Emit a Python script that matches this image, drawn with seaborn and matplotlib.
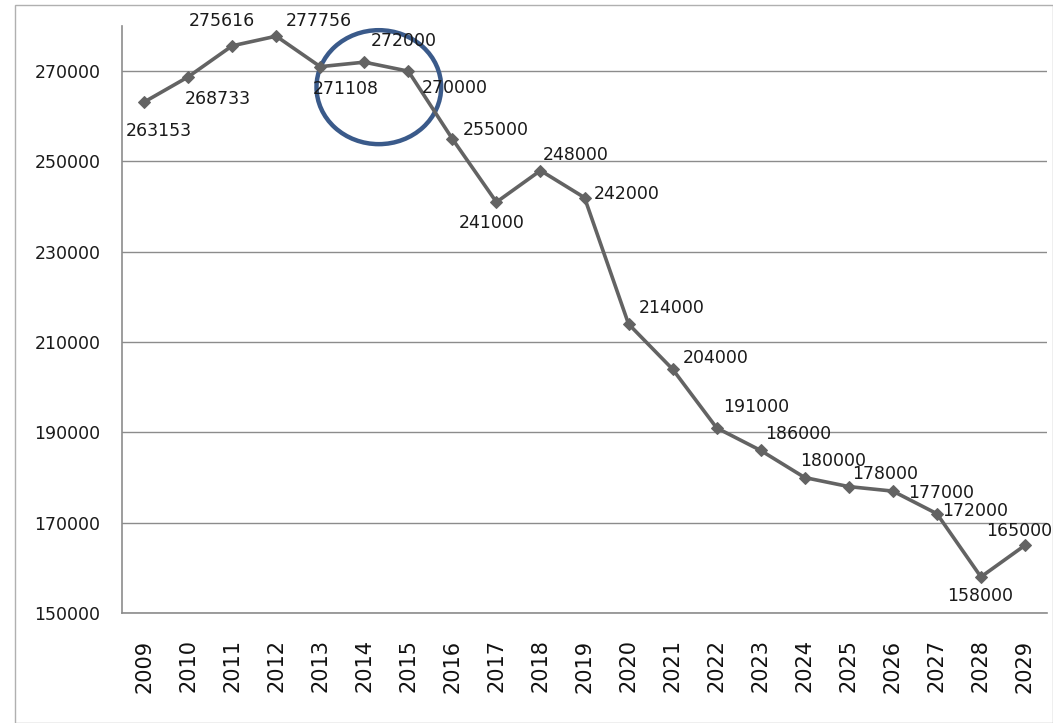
import numpy as np
import pandas as pd
import matplotlib.pyplot as plt
import seaborn as sns
from matplotlib.patches import Ellipse, Rectangle

# =============================================================================
# DATOS
# =============================================================================
anios = [str(a) for a in range(2009, 2030)]
valores = [263153, 268733, 275616, 277756, 271000, 272000, 270000, 255000,
           241000, 248000, 242000, 214000, 204000, 191000, 186000, 180000,
           178000, 177000, 172000, 158000, 165000]
etiquetas = ["263153", "268733", "275616", "277756", "271108", "272000",
             "270000", "255000", "241000", "248000", "242000", "214000",
             "204000", "191000", "186000", "180000", "178000", "177000",
             "172000", "158000", "165000"]
y_ticks = [150000, 170000, 190000, 210000, 230000, 250000, 270000]

# desplazamiento de cada etiqueta (pixeles) y alineacion horizontal
offsets = [(15, -29, "center"), (30, -22, "center"), (-10, 25, "center"),
           (43, 15, "center"), (26, -22, "center"), (39, 21, "center"),
           (13, -17, "left"), (10, 9, "left"), (-5, -21, "center"),
           (35, 16, "center"), (9, 4, "left"), (10, 16, "left"),
           (10, 11, "left"), (6, 21, "left"), (4, 16, "left"),
           (-5, 17, "left"), (3, 13, "left"), (15, -2, "left"),
           (5, 3, "left"), (-1, -19, "center"), (-39, 14, "left")]

df = pd.DataFrame({"pos": np.arange(len(anios)), "valor": valores})

# =============================================================================
# GRAFICO
# =============================================================================
sns.set_style("white")
plt.rcParams["font.family"] = ["DejaVu Sans"]

fig = plt.figure(figsize=(10.53, 7.23), dpi=100)
ax = fig.add_axes([0.1159, 0.1521, 0.8784, 0.8119])

sns.lineplot(data=df, x="pos", y="valor", ax=ax, color="#636363",
             linewidth=2.6, marker="D", markersize=6, markeredgecolor="#636363")

for i, (v, txt) in enumerate(zip(valores, etiquetas)):
    dx, dy, ha = offsets[i]
    ax.annotate(txt, (i, v), xytext=(dx, dy), textcoords="offset pixels",
                ha=ha, va="center", fontsize=12.5, color="#1a1a1a")

ax.set_xlim(-0.5, len(anios) - 0.5)
ax.set_ylim(150000, 280000)
ax.set_xticks(df["pos"])
ax.set_xticklabels(anios, rotation=90, fontsize=15, color="#111111")
ax.set_yticks(y_ticks)
ax.set_yticklabels([str(t) for t in y_ticks], fontsize=12.5, color="#1a1a1a")
ax.tick_params(axis="both", length=0)
ax.tick_params(axis="y", pad=15.5)
ax.tick_params(axis="x", pad=19)
ax.set_xlabel("")
ax.set_ylabel("")

ax.grid(axis="y", color="#8c8c8c", linewidth=1)
ax.set_axisbelow(True)
for lado in ["top", "right"]:
    ax.spines[lado].set_visible(False)
for lado in ["left", "bottom"]:
    ax.spines[lado].set_color("#8c8c8c")
    ax.spines[lado].set_linewidth(1.2)

# circulo azul resaltando 2013-2015
circulo = Ellipse((5.33, 266460), width=2.83, height=25240, fill=False,
                  edgecolor="#3a5a8a", linewidth=3.2, clip_on=False)
ax.add_patch(circulo)

# marco exterior
fig.patches.append(Rectangle((15 / 1053, 0), 1 - 15 / 1053, 1 - 5 / 723,
                             transform=fig.transFigure, fill=False,
                             edgecolor="#b0b0b0", linewidth=1))

fig.savefig("out.png", dpi=100)
